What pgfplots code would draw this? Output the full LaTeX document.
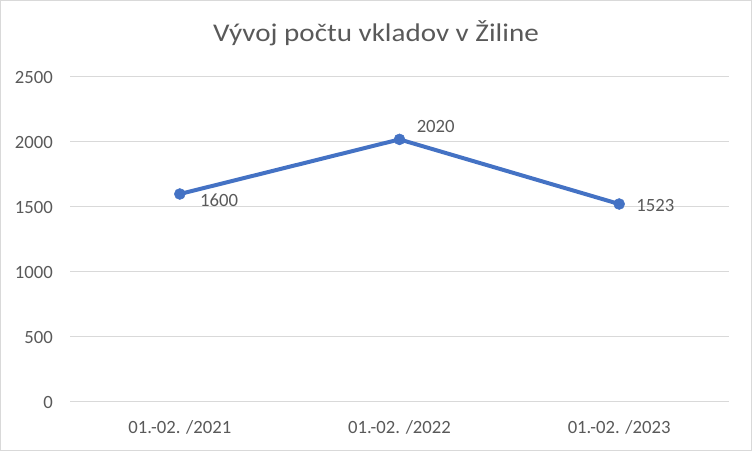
\documentclass[border=0pt]{standalone}
\usepackage{pgfplots}
\pgfplotsset{compat=1.18}
\usepackage{fontspec}
\setmainfont{Carlito}
\definecolor{txtgray}{HTML}{595959}
\definecolor{gridgray}{HTML}{D9D9D9}
\definecolor{exblue}{HTML}{4472C4}
\begin{document}
\begin{tikzpicture}
\path[use as bounding box] (0bp,0bp) rectangle (752bp,451bp);
\draw[gridgray, line width=1bp] (0.5bp,0.5bp) rectangle (751.5bp,450.5bp);
\node[anchor=base, text=txtgray, font=\fontsize{25.5bp}{30bp}\selectfont, inner sep=0pt, xscale=1.14] at (376bp,409.3bp) {Vývoj počtu vkladov v Žiline};
\begin{axis}[
  at={(70bp,49bp)}, anchor=south west,
  scale only axis, width=659bp, height=325bp,
  xmin=-0.5, xmax=2.5, ymin=0, ymax=2500,
  xtick={0,1,2}, xticklabels={01.-02. /2021, 01.-02. /2022, 01.-02. /2023},
  ytick={0,500,1000,1500,2000,2500},
  ymajorgrids, grid style={gridgray, line width=1bp},
  axis line style={draw=none},
  major tick length=0pt,
  /pgf/number format/assume math mode=true,
  /pgf/number format/1000 sep={},
  tick label style={text=txtgray, font=\fontsize{18.7bp}{22bp}\selectfont, inner sep=0pt},
  yticklabel style={anchor=east, xshift=-17bp},
  xticklabel style={anchor=north, yshift=-18bp},
  clip=false,
]
\addplot[exblue, line width=4bp, mark=*, mark size=5.5bp,
  mark options={fill=exblue, draw=exblue, line width=0.5bp},
  nodes near coords,
  point meta=explicit,
  visualization depends on={\thisrow{dx} \as \dx},
  visualization depends on={\thisrow{dy} \as \dy},
  every node near coord/.append style={anchor=west, inner sep=0pt, text=txtgray,
    font=\fontsize{18.7bp}{22bp}\selectfont, xshift=\dx bp, yshift=\dy bp},
] table[x=x, y=y, meta=y] {
x y dx dy
0 1600 20 -6.5
1 2020 17 13
2 1523 17 -1.5
};
\end{axis}
\end{tikzpicture}
\end{document}
